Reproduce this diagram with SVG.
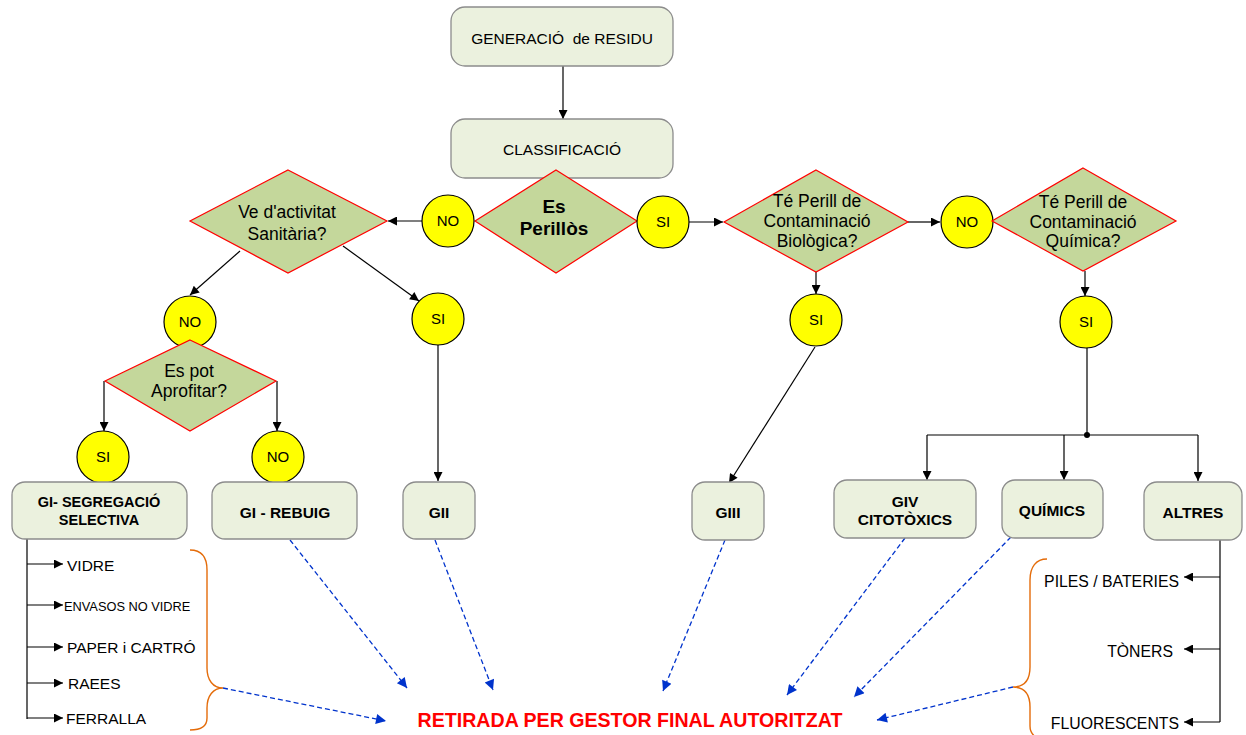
<svg xmlns="http://www.w3.org/2000/svg" width="1246" height="735" viewBox="0 0 1246 735">
<defs>
<marker id="ah" viewBox="0 0 10 10" refX="10" refY="5" markerWidth="11" markerHeight="9" markerUnits="userSpaceOnUse" orient="auto"><path d="M0,0 L10,5 L0,10 z" fill="#000"/></marker>
<marker id="bh" viewBox="0 0 10 10" refX="10" refY="5" markerWidth="13" markerHeight="10" markerUnits="userSpaceOnUse" orient="auto"><path d="M0,0 L10,5 L0,10 z" fill="#0033CC"/></marker>
<style>
.box{fill:#EBF1DE;stroke:#8C8C8C;stroke-width:1.3}
.dia{fill:#C4D79B;stroke:#FF0000;stroke-width:1.2}
.cir{fill:#FFFF00;stroke:#000;stroke-width:1.2}
.ln{fill:none;stroke:#000;stroke-width:1.2}
.arr{fill:none;stroke:#000;stroke-width:1.2;marker-end:url(#ah)}
.dash{fill:none;stroke:#0033CC;stroke-width:1.3;stroke-dasharray:5,3;marker-end:url(#bh)}
.brace{fill:none;stroke:#E46C0A;stroke-width:1.4}
text{font-family:"Liberation Sans",Arial,sans-serif;fill:#000}
.t15{font-size:15.5px;text-anchor:middle}
.dt{font-size:17.5px;text-anchor:middle}
.bt{font-size:15.5px;font-weight:bold;text-anchor:middle}
.ct{font-size:15px;text-anchor:middle}
.lt{font-size:15.5px}
.rt{font-size:15.8px;text-anchor:end}
</style>
</defs>
<rect width="1246" height="735" fill="#fff"/>

<g id="connectors">
<line class="arr" x1="563" y1="66" x2="563" y2="119"/>
<line class="arr" x1="422" y1="221" x2="388" y2="221"/>
<line class="arr" x1="689" y1="222" x2="723" y2="222"/>
<line class="arr" x1="908" y1="222" x2="940" y2="222"/>
<line class="arr" x1="816" y1="272" x2="816" y2="294"/>
<line class="arr" x1="1085" y1="271" x2="1085" y2="296"/>
<line class="arr" x1="240" y1="251" x2="190" y2="295"/>
<line class="arr" x1="343" y1="246" x2="419" y2="301"/>
<line class="arr" x1="104" y1="381" x2="104" y2="431"/>
<line class="arr" x1="277" y1="381" x2="277" y2="431"/>
<line class="arr" x1="438" y1="345" x2="438" y2="481"/>
<line class="arr" x1="815" y1="347" x2="729" y2="483"/>
<line class="ln" x1="1087" y1="348" x2="1087" y2="435"/>
<line class="ln" x1="927" y1="435" x2="1198" y2="435"/>
<circle cx="1087" cy="435" r="3" fill="#000"/>
<line class="arr" x1="927" y1="435" x2="927" y2="480"/>
<line class="arr" x1="1064" y1="435" x2="1064" y2="480"/>
<line class="arr" x1="1198" y1="435" x2="1198" y2="481"/>
<line class="ln" x1="27" y1="539" x2="27" y2="719"/>
<line class="arr" x1="27" y1="564" x2="63" y2="564"/>
<line class="arr" x1="27" y1="605" x2="63" y2="605"/>
<line class="arr" x1="27" y1="647" x2="63" y2="647"/>
<line class="arr" x1="27" y1="683" x2="63" y2="683"/>
<line class="arr" x1="27" y1="718" x2="63" y2="718"/>
<line class="ln" x1="1220" y1="540" x2="1220" y2="722"/>
<line class="arr" x1="1220" y1="577" x2="1184" y2="577"/>
<line class="arr" x1="1220" y1="649" x2="1184" y2="649"/>
<line class="arr" x1="1220" y1="722" x2="1184" y2="722"/>
<line class="dash" x1="290" y1="540" x2="407" y2="688"/>
<line class="dash" x1="435" y1="540" x2="493" y2="690"/>
<line class="dash" x1="725" y1="540" x2="663" y2="691"/>
<line class="dash" x1="905" y1="538" x2="787" y2="695"/>
<line class="dash" x1="1011" y1="537" x2="854" y2="697"/>
<line class="dash" x1="223" y1="688" x2="386" y2="721"/>
<line class="dash" x1="1013" y1="687" x2="877" y2="720"/>
<path class="brace" d="M190,550 C202,550 207,558 207,570 L207,668 C207,680 213,688 223,688 C213,688 207,696 207,708 L207,718 C207,726 201,730 190,730"/>
<path class="brace" d="M1047,559 C1036,559 1030,567 1030,580 L1030,667 C1030,680 1024,687 1013,687 C1024,687 1030,694 1030,707 L1030,726 C1030,734 1036,740 1047,740"/>
</g>

<g id="n-generacio"><rect class="box" x="451" y="7" width="222" height="59" rx="14"/><text class="t15" x="562" y="44">GENERACIÓ&#160; de RESIDU</text></g>
<g id="n-classificacio"><rect class="box" x="451" y="119" width="222" height="59" rx="14"/><text class="t15" x="562" y="155">CLASSIFICACIÓ</text></g>
<g id="n-perillos"><polygon class="dia" points="556,170 637,221 556,273 475,221"/><text x="554" y="213" style="font-size:19px;font-weight:bold;text-anchor:middle">Es</text><text x="554" y="235" style="font-size:19px;font-weight:bold;text-anchor:middle">Perillòs</text></g>
<g id="c-no1"><circle class="cir" cx="448" cy="221" r="26"/><text class="ct" x="448" y="226">NO</text></g>
<g id="c-si1"><circle class="cir" cx="663" cy="222" r="26"/><text class="ct" x="663" y="227">SI</text></g>
<g id="n-sanitaria"><polygon class="dia" points="288,170 387,221 288,273 190,221"/><text class="dt" x="287" y="218">Ve d'activitat</text><text class="dt" x="287" y="240">Sanitària?</text></g>
<g id="n-biologica"><polygon class="dia" points="816,170 908,222 816,272 724,222"/><text class="dt" x="817" y="207">Té Perill de</text><text class="dt" x="817" y="227">Contaminació</text><text class="dt" x="817" y="247">Biològica?</text></g>
<g id="c-no2"><circle class="cir" cx="967" cy="222" r="26"/><text class="ct" x="967" y="227">NO</text></g>
<g id="n-quimica"><polygon class="dia" points="1083,168 1176,221 1083,271 992,221"/><text class="dt" x="1083" y="208">Té Perill de</text><text class="dt" x="1083" y="228">Contaminació</text><text class="dt" x="1083" y="247">Química?</text></g>
<g id="c-si-bio"><circle class="cir" cx="816" cy="320" r="26"/><text class="ct" x="816" y="325">SI</text></g>
<g id="c-si-qui"><circle class="cir" cx="1086" cy="322" r="26"/><text class="ct" x="1086" y="327">SI</text></g>
<g id="c-no-san"><circle class="cir" cx="190" cy="322" r="26"/><text class="ct" x="190" y="327">NO</text></g>
<g id="c-si-san"><circle class="cir" cx="438" cy="319" r="26"/><text class="ct" x="438" y="324">SI</text></g>
<g id="n-aprofitar"><polygon class="dia" points="190,340 276,381 190,431 105,381"/><text class="dt" x="189" y="377">Es pot</text><text class="dt" x="189" y="397">Aprofitar?</text></g>
<g id="c-si-apr"><circle class="cir" cx="103" cy="457" r="26"/><text class="ct" x="103" y="462">SI</text></g>
<g id="c-no-apr"><circle class="cir" cx="278" cy="457" r="26"/><text class="ct" x="278" y="462">NO</text></g>
<g id="n-gi-seg"><rect class="box" x="12" y="482" width="175" height="57" rx="13"/><text class="bt" x="99" y="507" style="font-size:14.5px">GI- SEGREGACIÓ</text><text class="bt" x="99" y="525" style="font-size:14.5px">SELECTIVA</text></g>
<g id="n-gi-rebuig"><rect class="box" x="212" y="482" width="145" height="57" rx="13"/><text class="bt" x="285" y="518">GI - REBUIG</text></g>
<g id="n-gii"><rect class="box" x="403" y="482" width="72" height="57" rx="13"/><text class="bt" x="439" y="518">GII</text></g>
<g id="n-giii"><rect class="box" x="692" y="482" width="72" height="58" rx="13"/><text class="bt" x="728" y="518">GIII</text></g>
<g id="n-giv"><rect class="box" x="834" y="480" width="142" height="58" rx="13"/><text class="bt" x="905" y="507">GIV</text><text class="bt" x="905" y="525">CITOTÒXICS</text></g>
<g id="n-quimics"><rect class="box" x="1002" y="480" width="101" height="58" rx="13"/><text class="bt" x="1052" y="516">QUÍMICS</text></g>
<g id="n-altres"><rect class="box" x="1144" y="482" width="98" height="58" rx="13"/><text class="bt" x="1193" y="518">ALTRES</text></g>

<g id="list-left">
<text class="lt" x="67" y="571">VIDRE</text>
<text x="64" y="611" style="font-size:12.8px">ENVASOS NO VIDRE</text>
<text class="lt" x="67" y="653">PAPER i CARTRÓ</text>
<text class="lt" x="68" y="689">RAEES</text>
<text class="lt" x="66" y="724">FERRALLA</text>
</g>
<g id="list-right">
<text class="rt" x="1179" y="587">PILES / BATERIES</text>
<text class="rt" x="1173" y="657">TÒNERS</text>
<text class="rt" x="1179" y="729">FLUORESCENTS</text>
</g>
<g id="n-retirada"><text x="630" y="727" style="font-size:19.6px;font-weight:bold;fill:#FF0000;text-anchor:middle">RETIRADA PER GESTOR FINAL AUTORITZAT</text></g>
</svg>
